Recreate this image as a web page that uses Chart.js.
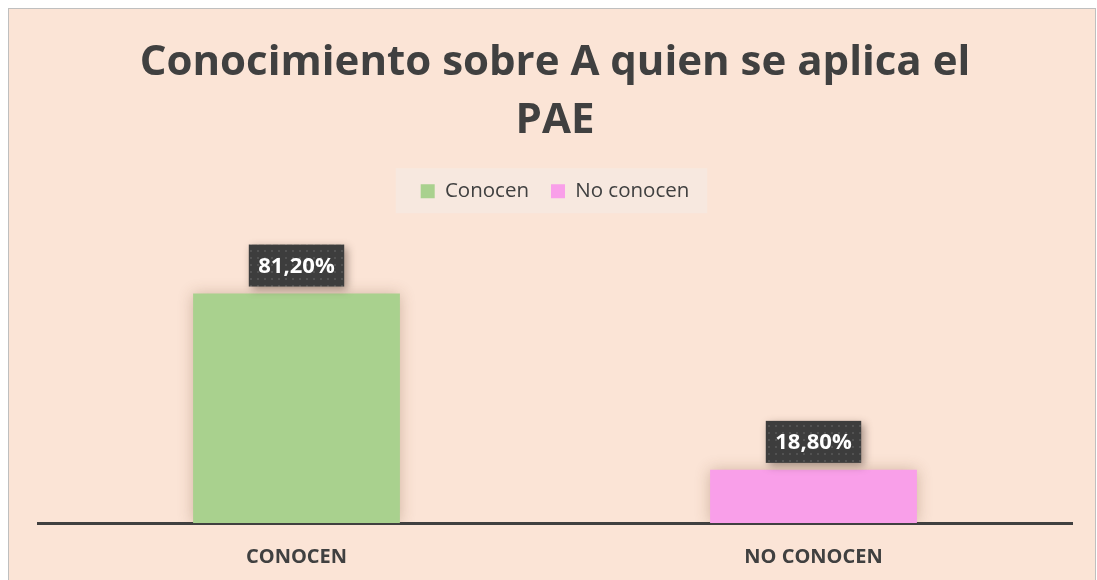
<!DOCTYPE html>
<html>
<head>
<meta charset="utf-8">
<script src="https://cdn.jsdelivr.net/npm/chart.js@4/dist/chart.umd.min.js"></script>
<style>
	body { margin: 0; background: #fff; }
	#wrap { position: absolute; left: 8px; top: 8px; width: 1086px; height: 600px; border: 1px solid #bfbfbf; background: #fbe4d6; }
</style>
</head>
<body>
<div id="wrap"><canvas id="chart" width="1086" height="571"></canvas></div>
<script>
"use strict";

// data
var categories = ['CONOCEN', 'NO CONOCEN'];
var seriesNames = ['Conocen', 'No conocen'];
var conocenValues = [81.2, null];
var noConocenValues = [null, 18.8];
var yMin = 0;
var yMax = 100;

var textColor = '#404040';
var fontFamily = '"Open Sans", Lato, sans-serif';

// dotted pattern for the value boxes
function MakeDotPattern(ctx) {
	var c = document.createElement('canvas');
	c.width = 7; c.height = 7;
	var p = c.getContext('2d');
	p.fillStyle = '#3d3d3d';
	p.fillRect(0, 0, 7, 7);
	p.fillStyle = '#525252';
	p.fillRect(3, 3, 2, 2);
	return ctx.createPattern(c, 'repeat');
}

function FormatValue(v) {
	return v.toFixed(2).replace('.', ',') + '%';
}

// extra space under the legend
var legendMargin = {
	id: 'legendMargin',
	beforeInit: function (chart) {
		var fit = chart.legend.fit;
		chart.legend.fit = function () {
			fit.bind(chart.legend)();
			this.height += 29;
		};
	}
};

// light box behind the legend
var legendBackground = {
	id: 'legendBackground',
	beforeDraw: function (chart) {
		var boxes = chart.legend.legendHitBoxes;
		if (!boxes || !boxes.length) return;
		var first = boxes[0], last = boxes[boxes.length - 1];
		var cy = first.top + first.height / 2;
		var ctx = chart.ctx;
		ctx.save();
		ctx.fillStyle = '#f7e8df';
		ctx.fillRect(first.left - 25, cy - 23, (last.left + last.width + 18) - (first.left - 25), 45);
		ctx.restore();
	}
};

// soft shadow on the bars + dark value boxes
var barDecor = {
	id: 'barDecor',
	beforeDatasetsDraw: function (chart) {
		var ctx = chart.ctx;
		ctx.save();
		ctx.shadowColor = 'rgba(110, 70, 40, 0.3)';
		ctx.shadowBlur = 14;
	},
	afterDatasetsDraw: function (chart) {
		var ctx = chart.ctx;
		ctx.restore();
		var pattern = MakeDotPattern(ctx);
		chart.data.datasets.forEach(function (ds, i) {
			var meta = chart.getDatasetMeta(i);
			meta.data.forEach(function (bar, j) {
				var v = ds.data[j];
				if (v === null || v === undefined) return;
				var text = FormatValue(v);
				ctx.save();
				ctx.font = 'bold 22px ' + fontFamily;
				var w = ctx.measureText(text).width + 19;
				var h = 42;
				var x = bar.x - w / 2;
				var y = bar.y - 7 - h;
				ctx.shadowColor = 'rgba(60, 40, 30, 0.45)';
				ctx.shadowBlur = 8;
				ctx.shadowOffsetX = 3;
				ctx.shadowOffsetY = 3;
				ctx.fillStyle = pattern;
				ctx.fillRect(x, y, w, h);
				ctx.shadowColor = 'transparent';
				ctx.fillStyle = '#ffffff';
				ctx.textAlign = 'center';
				ctx.textBaseline = 'middle';
				ctx.fillText(text, bar.x, y + h / 2 + 1);
				ctx.restore();
			});
		});
	}
};

const context = document.getElementById('chart');
const myChart = new Chart(context, {
	type: 'bar',
	data: {
		labels: categories,
		datasets: [{
			label: seriesNames[0],
			data: conocenValues,
			backgroundColor: '#a9d18e',
			borderWidth: 0
		}, {
			label: seriesNames[1],
			data: noConocenValues,
			backgroundColor: '#f99fe9',
			borderWidth: 0
		}]
	},
	options: {
		responsive: false,
		animation: false,
		barPercentage: 0.4,
		categoryPercentage: 1.0,
		layout: {
			padding: { left: 29, right: 23, top: 0, bottom: -11 }
		},
		plugins: {
			title: {
				display: true,
				text: ['Conocimiento sobre A quien se aplica el', 'PAE'],
				color: textColor,
				font: { family: fontFamily, size: 42, weight: 'bold', lineHeight: 1.38 },
				padding: { top: 25, bottom: 9 }
			},
			legend: {
				display: true,
				position: 'top',
				labels: {
					boxWidth: 14,
					boxHeight: 14,
					padding: 22,
					color: textColor,
					font: { family: fontFamily, size: 20.5 }
				}
			},
			tooltip: { enabled: false }
		},
		scales: {
			x: {
				stacked: true,
				z: 1,
				grid: { display: false, drawTicks: false },
				border: { display: true, color: '#404040', width: 3 },
				ticks: {
					color: textColor,
					padding: 22,
					font: { family: fontFamily, size: 20, weight: 'bold' }
				}
			},
			y: {
				stacked: true,
				display: false,
				min: yMin,
				max: yMax
			}
		}
	},
	plugins: [legendMargin, legendBackground, barDecor]
});
</script>
</body>
</html>
